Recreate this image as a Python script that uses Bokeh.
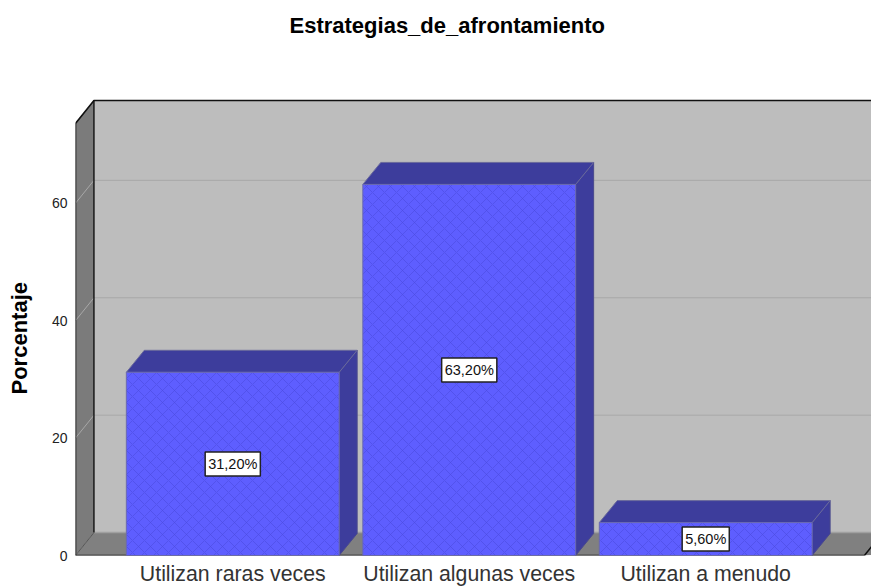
from bokeh.plotting import figure
from bokeh.models import ColumnDataSource, FixedTicker, Title
from bokeh.core.properties import value
from bokeh.embed import file_html
from bokeh.resources import INLINE

categories = ["Utilizan raras veces", "Utilizan algunas veces", "Utilizan a menudo"]
percentages = [31.2, 63.2, 5.6]
value_labels = ["31,20%", "63,20%", "5,60%"]
y_ticks = [0, 20, 40, 60]
title_text = "Estrategias_de_afrontamiento"
y_title = "Porcentaje"

# layout of the pseudo-3D box, in data units
positions = [1, 2, 3]
BAR_W = 0.9
DX, DY = 0.078, 3.9            # wall depth
BDX, BDY = 0.076, 3.75         # bar depth
X0, X1 = 0.335, 3.701
FRONT_R = 3.671
Y_AXIS_TOP = 73.6
Y1 = 79.2

FONT = "Liberation Sans"
W, H = 871, 588
p = figure(width=W, height=H, x_range=(X0, X1), y_range=(0, Y1),
           output_backend="svg", toolbar_location=None,
           min_border_left=75, min_border_right=0, min_border_bottom=31, min_border_top=90,
           background_fill_color="white", border_fill_color="white", outline_line_color=None)
p.grid.visible = False

# walls and floor
p.patch([X0 + DX, X1 + 1, X1 + 1, X0 + DX], [0 + DY, DY, Y_AXIS_TOP + DY, Y_AXIS_TOP + DY],
        fill_color="#bdbdbd", line_color=None)
p.patch([X0, X0 + DX, X0 + DX, X0], [0, DY, Y_AXIS_TOP + DY, Y_AXIS_TOP],
        fill_color="#7b7b7b", line_color=None)
p.patch([X0, X0 + DX, X1 + 1, FRONT_R], [0, DY, DY, 0], fill_color="#808080", line_color=None)
p.line([X0 + DX, X1], [DY, DY], line_color="#a0a0a0", line_width=1.5)

# gridlines on the back wall and the left wall
for t in y_ticks[1:]:
    p.line([X0, X0 + DX, X1], [t, t + DY, t + DY], line_color="#a8a8a8", line_width=1)

# box outline
p.line([X0, X0, X0 + DX, X1], [0, Y_AXIS_TOP, Y_AXIS_TOP + DY, Y_AXIS_TOP + DY], line_color="#111111", line_width=1.6)
p.line([X0 + DX, X0 + DX], [DY, Y_AXIS_TOP + DY], line_color="#111111", line_width=1.4)
p.line([X0, X0 + DX], [0, DY], line_color="#555555", line_width=1)
p.line([X0, FRONT_R, X1], [0, 0, (X1 - FRONT_R) / DX * DY], line_color="#111111", line_width=1.6)

# bars
left = [c - BAR_W / 2 for c in positions]
right = [c + BAR_W / 2 for c in positions]
side_x = [[r, r + BDX, r + BDX, r] for r in right]
side_y = [[0, BDY, v + BDY, v] for v in percentages]
top_x = [[l, l + BDX, r + BDX, r] for l, r in zip(left, right)]
top_y = [[v, v + BDY, v + BDY, v] for v in percentages]
p.patches(side_x, side_y, fill_color="#3d3d9c", line_color="#4a4a8c", line_width=1)
p.patches(top_x, top_y, fill_color="#3d3d9c", line_color="#6a6a9c", line_width=1)
p.quad(left=left, right=right, bottom=[0] * 3, top=percentages,
       fill_color="#5e5eff", line_color="#6a6ab0", line_width=1,
       hatch_pattern="diagonal_cross", hatch_color="#4848dc", hatch_scale=12, hatch_weight=1, hatch_alpha=0.55)

# value labels
src = ColumnDataSource(dict(x=positions, y=[v / 2 for v in percentages], t=value_labels))
p.text(x="x", y="y", text="t", source=src, text_align="center", text_baseline="middle",
       text_font=value(FONT), text_font_size="14.5px", text_color="#111111",
       background_fill_color="white", border_line_color="#222222", border_line_width=1.5,
       padding=(3, 4))

# axes
ya = p.yaxis[0]
ya.ticker = FixedTicker(ticks=y_ticks)
ya.bounds = (0, Y_AXIS_TOP)
ya.axis_line_color = None
ya.major_tick_line_color = None
ya.minor_tick_line_color = None
ya.major_tick_out = 0
ya.major_tick_in = 0
ya.minor_tick_out = 0
ya.major_label_text_font = FONT
ya.major_label_text_font_size = "14px"
ya.major_label_text_color = "#222222"
ya.major_label_standoff = 8

xa = p.xaxis[0]
xa.ticker = FixedTicker(ticks=positions)
xa.major_label_overrides = dict(zip(positions, categories))
xa.axis_line_color = None
xa.major_tick_line_color = None
xa.minor_tick_line_color = None
xa.major_tick_out = 0
xa.major_tick_in = 0
xa.minor_tick_out = 0
xa.major_label_text_font = FONT
xa.major_label_text_font_size = "21.3px"
xa.major_label_text_color = "#333333"
xa.major_label_standoff = 6

# blank spacers push the titles out to where the reference has them
p.add_layout(Title(text=" ", text_font_size="12px", standoff=1), "left")
p.add_layout(Title(text=y_title, align="left", offset=161, standoff=0, text_font=FONT,
                   text_font_size="22px", text_font_style="bold", text_color="black"), "left")
p.add_layout(Title(text=" ", text_font_size="12px", standoff=37), "above")

p.title.text = title_text
p.title.text_font = FONT
p.title.text_font_size = "22px"
p.title.text_font_style = "bold"
p.title.text_color = "black"
p.title.align = "left"
p.title.offset = 214
p.title.standoff = 0

open("out.html", "w").write(file_html(p, INLINE))
